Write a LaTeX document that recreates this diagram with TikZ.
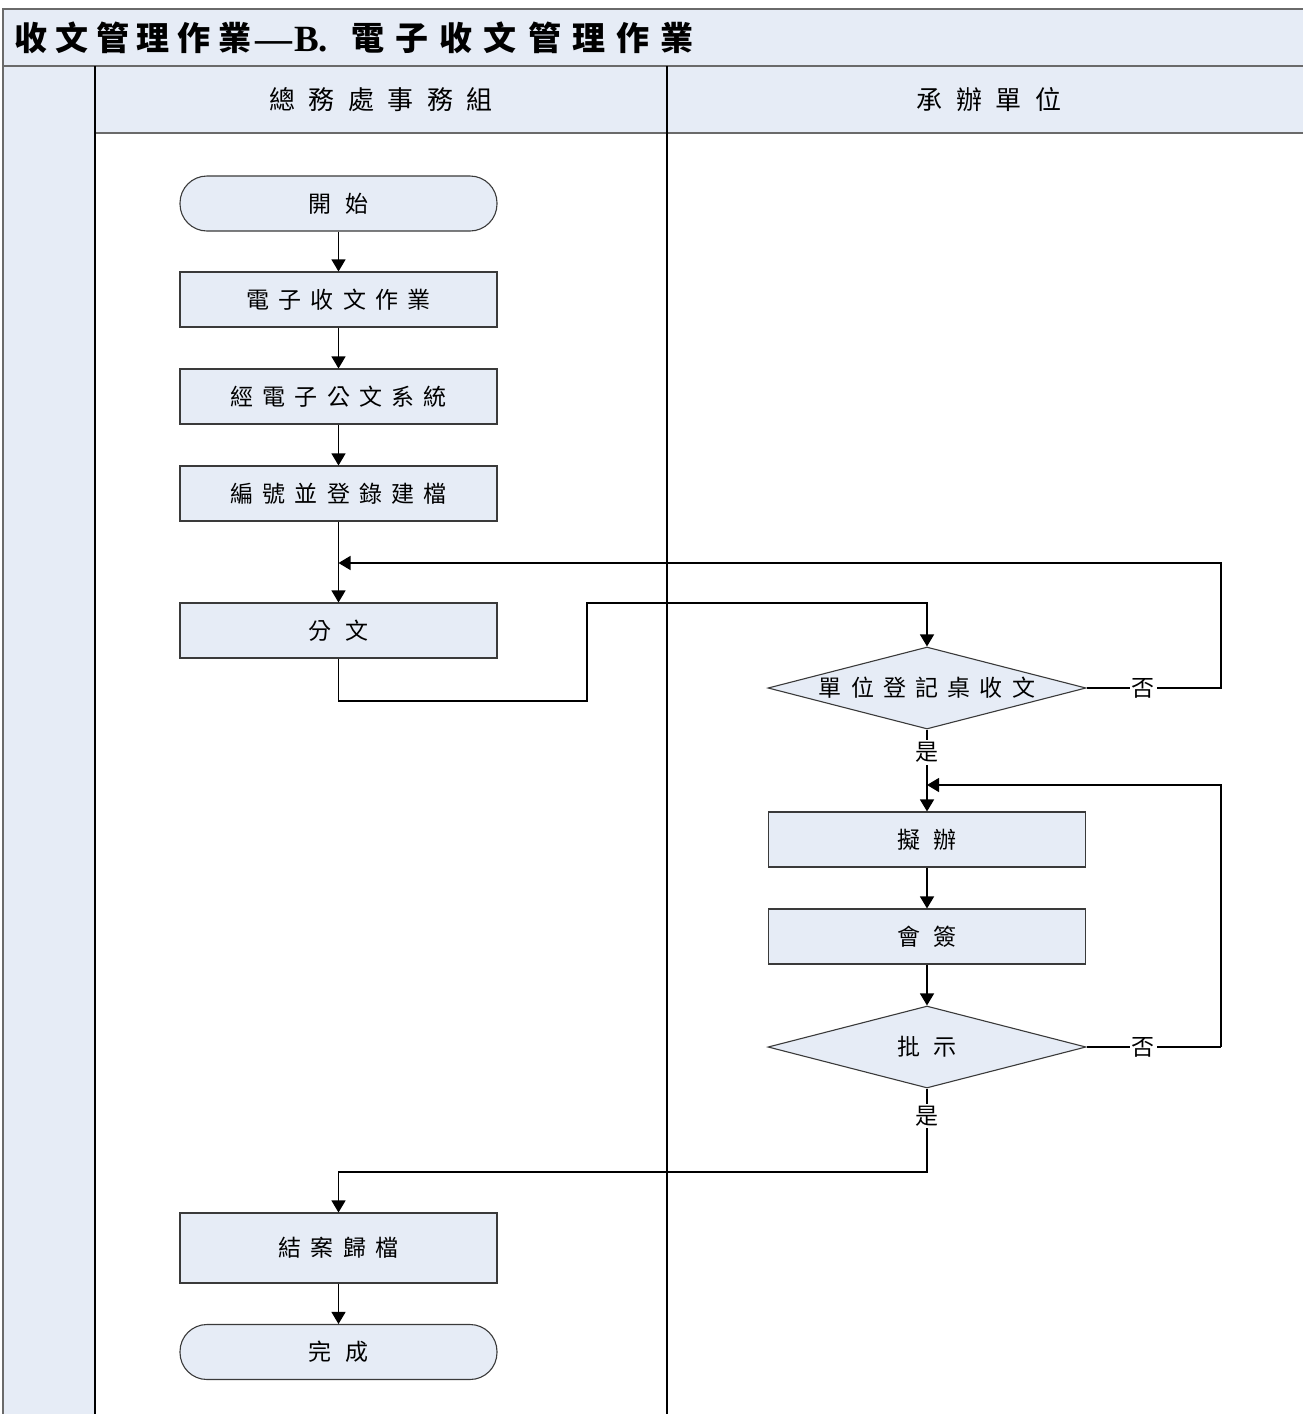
\documentclass[tikz,border=0pt]{standalone}
\usepackage{fontspec}
\usetikzlibrary{arrows.meta,shapes.geometric}
\newfontfamily\cjk{Noto Sans CJK TC}
\newfontfamily\cjkbox[LetterSpace=40]{Noto Sans CJK TC}
\newfontfamily\cjkwide[LetterSpace=60]{Noto Sans CJK TC}
\newfontfamily\cjkhead[LetterSpace=52]{Noto Sans CJK TC}
\newfontfamily\cjktitlea[LetterSpace=24]{Noto Sans CJK TC}
\newfontfamily\cjktitleb[LetterSpace=34]{Noto Sans CJK TC}
\newfontfamily\latintitle{Liberation Serif}
\definecolor{boxfill}{HTML}{E6ECF6}
\definecolor{linec}{HTML}{3A3A3A}
\definecolor{framec}{HTML}{6A6A6A}
\newcommand\bxt[1]{{\cjkbox\fontsize{23}{27}\selectfont #1}}
\newcommand\wdt[1]{{\cjkwide\fontsize{23}{27}\selectfont #1}}
\newcommand\hdt[1]{{\cjkhead\fontsize{26}{30}\selectfont #1}}
\begin{document}
\begin{tikzpicture}[x=1pt,y=-1pt,
  proc/.style={draw=linec, fill=boxfill, line width=1.1pt, minimum width=317pt, minimum height=55pt, inner sep=0pt},
  term/.style={proc, rounded corners=27pt},
  dec/.style={draw=linec, fill=boxfill, line width=1.1pt, shape=diamond, shape aspect=3.9, minimum width=318pt, minimum height=82pt, inner sep=0pt},
  arr/.style={draw=black, line width=1.3pt, -{Triangle[width=14pt,length=12pt]}},
  con/.style={draw=black, line width=1.3pt},
  lbl/.style={fill=white, inner sep=2pt, font=\cjk\fontsize{23}{27}\selectfont},
  ttl/.style={anchor=base west, inner sep=0pt}
]
\useasboundingbox (0,0) rectangle (1303,1414);
% background
\fill[boxfill] (3,9) rectangle (1303,1414);
\fill[white] (95,133) rectangle (1303,1414);
\draw[framec, line width=1.2pt] (3,1414) -- (3,9) -- (1303,9);
\draw[framec, line width=1.2pt] (3,66) -- (1303,66);
\draw[framec, line width=1.2pt] (95,133) -- (1303,133);
\draw[black, line width=1.2pt] (95,66) -- (95,1414);
\draw[black, line width=1.2pt] (667,66) -- (667,1414);
% title and headers
\node[ttl] (title) at (14,50) {\cjktitlea\bfseries\fontsize{33}{36}\selectfont 收文管理作業};
\node[ttl] (titleb) at (255,51) {\latintitle\bfseries\fontsize{37}{40}\selectfont —\kern2pt B.};
\node[ttl] (titlec) at (351,50) {\cjktitleb\bfseries\fontsize{33}{36}\selectfont 電子收文管理作業};
\node (h1) at (381,100) {\hdt{總務處事務組}};
\node (h2) at (989,100) {\hdt{承辦單位}};
% nodes
\node[term] (start) at (338.5,203.5) {\wdt{開始}};
\node[proc] (b1) at (338.5,299.5) {\bxt{電子收文作業}};
\node[proc] (b2) at (338.5,396.5) {\bxt{經電子公文系統}};
\node[proc] (b3) at (338.5,493.5) {\bxt{編號並登錄建檔}};
\node[proc] (b4) at (338.5,630.5) {\wdt{分文}};
\node[dec] (d1) at (927,688) {\bxt{單位登記桌收文}};
\node[proc] (r1) at (927,839.5) {\wdt{擬辦}};
\node[proc] (r2) at (927,936.5) {\wdt{會簽}};
\node[dec] (d2) at (927,1047) {\wdt{批示}};
\node[proc, minimum height=70pt] (b5) at (338.5,1248) {\bxt{結案歸檔}};
\node[term] (end) at (338.5,1352) {\wdt{完成}};
% coordinates
\coordinate (j1) at (338.5,563);
\coordinate (j2) at (927,785);
\coordinate (n1) at (1221,688);
\coordinate (n2) at (1221,1047);
\coordinate (c1) at (587,701);
\coordinate (c2) at (587,603);
\coordinate (c3) at (927,1172);
% connectors
\draw[arr] (start) -- (b1);
\draw[arr] (b1) -- (b2);
\draw[arr] (b2) -- (b3);
\draw[arr] (b3) -- (b4);
\draw[arr] (b4.south) |- (c1) -- (c2) -| (d1.north);
\draw[arr] (d1.east) -- node[lbl, pos=0.42] {否} (n1) |- (j1);
\draw[arr] (d1.south) -- node[lbl, pos=0.28] {是} (r1.north);
\draw[arr] (n2) |- (j2);
\draw[con] (d2.east) -- node[lbl, pos=0.42] {否} (n2);
\draw[arr] (r1) -- (r2);
\draw[arr] (r2) -- (d2);
\draw[arr] (d2.south) -- node[lbl, pos=0.33] {是} (c3) -| (b5.north);
\draw[arr] (b5) -- (end);
\end{tikzpicture}
\end{document}
